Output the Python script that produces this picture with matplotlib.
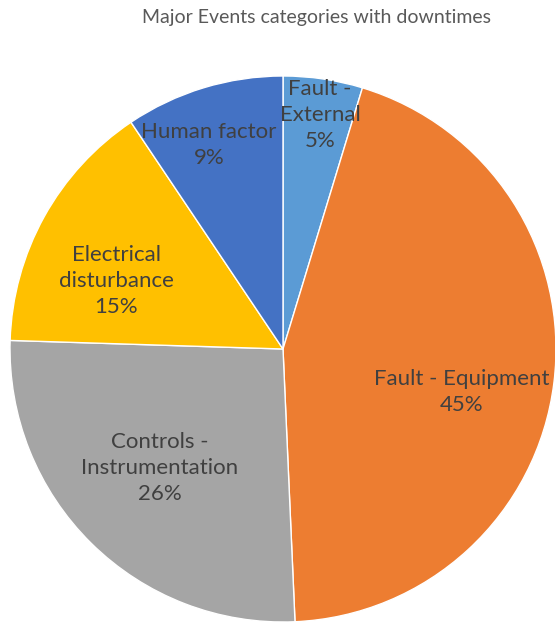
import matplotlib
matplotlib.use("Agg")
import matplotlib.pyplot as plt
import numpy as np

# slice values (percent), read clockwise from 12 o'clock
categories = ["Fault -\nExternal", "Fault - Equipment", "Controls -\nInstrumentation",
              "Electrical\ndisturbance", "Human factor"]
values = [4.7, 44.6, 26.2, 15.1, 9.4]
colors = ["#5B9BD5", "#ED7D31", "#A5A5A5", "#FFC000", "#4472C4"]

# label placement: radius fraction and angle nudge (deg) per slice
label_r = [0.868, 0.674, 0.627, 0.66, 0.795]
label_da = [-0.5, -6.3, -1.3, 6.8, 3.0]

plt.rcParams["font.family"] = ["Lato", "DejaVu Sans"]

W, H = 555, 625
fig = plt.figure(figsize=(W / 100, H / 100), dpi=100)
cx, cy, R = 283, 349, 273
ax = fig.add_axes([(cx - R) / W, (H - cy - R) / H, 2 * R / W, 2 * R / H])

wedges, _ = ax.pie(values, colors=colors, startangle=90, counterclock=False,
                   wedgeprops=dict(edgecolor="white", linewidth=1.0))
ax.set_xlim(-1, 1); ax.set_ylim(-1, 1)
ax.set_aspect("equal")

total = sum(values)
for w, name, v, r, da in zip(wedges, categories, values, label_r, label_da):
    th = np.deg2rad((w.theta1 + w.theta2) / 2 + da)
    ax.text(r * np.cos(th), r * np.sin(th), f"{name}\n{v / total * 100:.0f}%",
            ha="center", va="center", fontsize=16, color="#404040",
            linespacing=1.4)

fig.text(317 / W, 1 - 18 / H, "Major Events categories with downtimes",
         ha="center", va="center", fontsize=14, color="#595959")

fig.savefig("out.png", dpi=100)
